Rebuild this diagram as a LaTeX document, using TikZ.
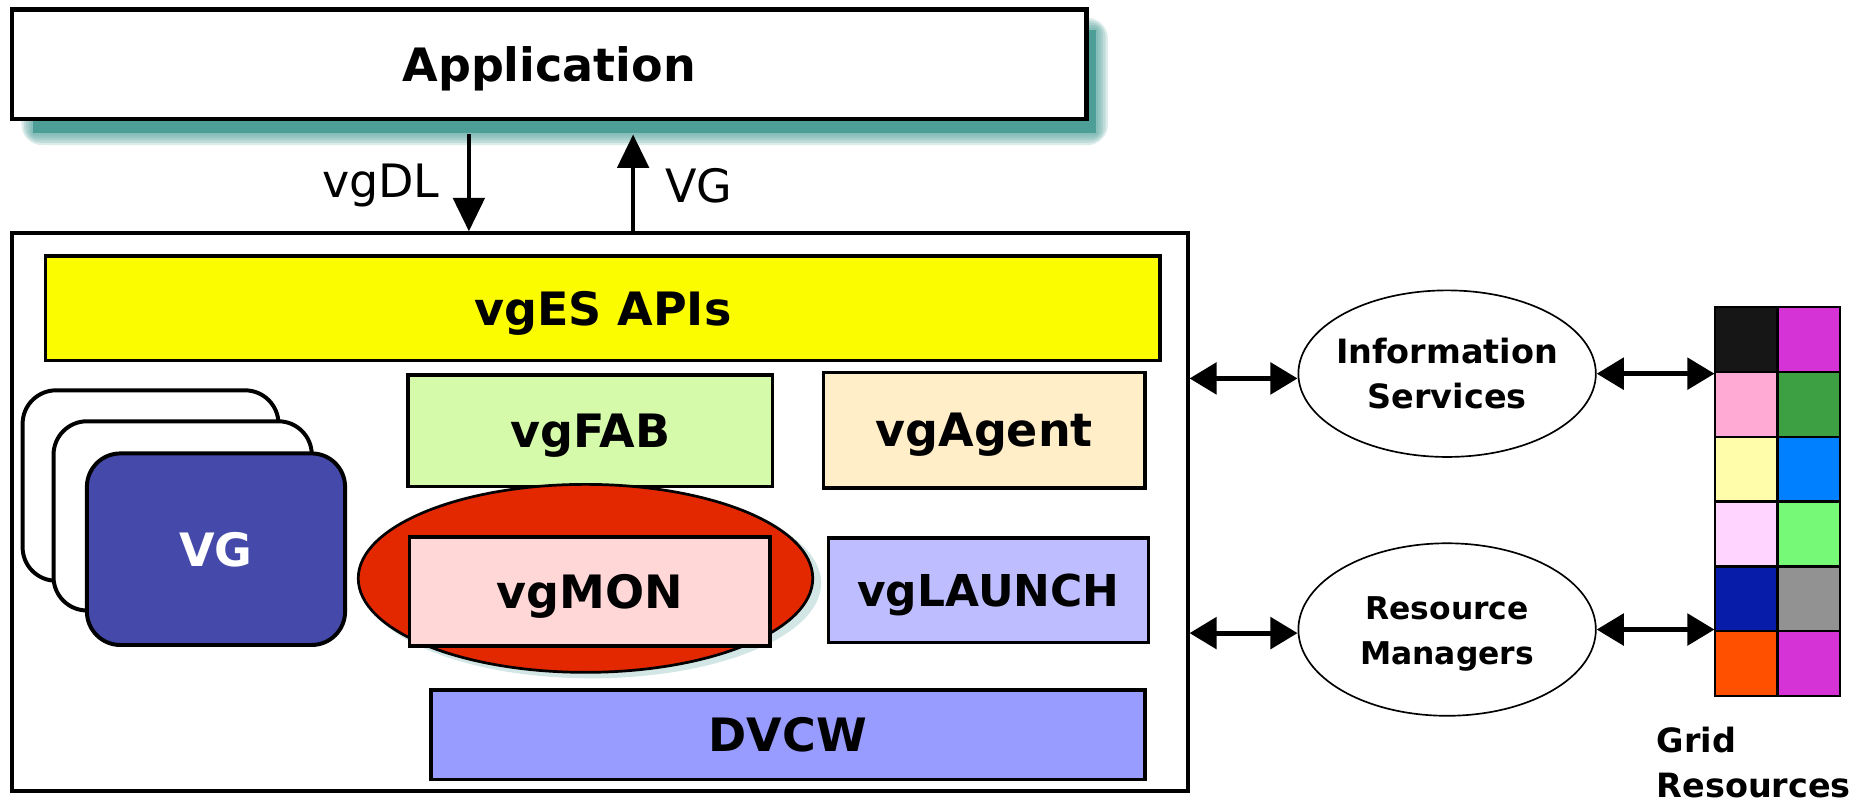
\documentclass[tikz,border=0pt]{standalone}
\usepackage{fontspec}
\setmainfont{DejaVu Sans}
\usetikzlibrary{arrows.meta,shapes.geometric,fit}

\definecolor{appshadow}{HTML}{4E9E98}
\definecolor{apiyellow}{HTML}{FCFC00}
\definecolor{fabgreen}{HTML}{D5FBAA}
\definecolor{agentbeige}{HTML}{FFEEC8}
\definecolor{vgblue}{HTML}{454AAA}
\definecolor{monred}{HTML}{E32800}
\definecolor{monpink}{HTML}{FFD7D7}
\definecolor{launchlav}{HTML}{BDBDFF}
\definecolor{dvcwblue}{HTML}{999CFF}
\definecolor{gA}{HTML}{161616}
\definecolor{gB}{HTML}{D633D6}
\definecolor{gC}{HTML}{FFAAD4}
\definecolor{gD}{HTML}{3DA043}
\definecolor{gE}{HTML}{FFFCAA}
\definecolor{gF}{HTML}{0080FF}
\definecolor{gG}{HTML}{FFD5FF}
\definecolor{gH}{HTML}{76F976}
\definecolor{gI}{HTML}{071DAA}
\definecolor{gJ}{HTML}{929292}
\definecolor{gK}{HTML}{FF5000}

\tikzset{
  big/.style={font=\fontsize{22}{26}\selectfont\bfseries, text depth=0pt},
  small/.style={font=\fontsize{16}{21.5}\selectfont\bfseries, align=center},
  layerbox/.style={draw=black, line width=1.7pt, inner sep=0pt, big},
  vgcard/.style={draw=black, line width=1.9pt, rounded corners=16pt},
  svcellipse/.style={ellipse, draw=black, line width=0.8pt, fill=white,
    inner sep=0pt, minimum width=5cm, minimum height=2.8cm},
  oneway/.style={line width=2pt, -{Triangle[length=16pt,width=15pt]}},
  twoway/.style={line width=2.3pt, {Triangle[length=13pt,width=15pt]}-{Triangle[length=13pt,width=15pt]}},
  cell/.style={draw=black, line width=1.1pt},
}

\begin{document}
\begin{tikzpicture}[x=0.02cm, y=-0.02cm]
\useasboundingbox (0,0) rectangle (1568,678);

% soft teal shadow behind the application box
\fill[appshadow] (28,25) rectangle (921,112);
\foreach \g in {2,4,6,8,10}
  \fill[appshadow, opacity=0.2, rounded corners=\g] (28-\g,25-\g) rectangle (921+\g,112+\g);

% application layer
\node[draw=black, line width=2.2pt, fill=white, inner sep=0pt, big,
      minimum width=18.06cm, minimum height=1.84cm] (app) at (461.5,54) {Application};

% middleware container
\node[draw=black, line width=1.9pt, fill=white, inner sep=0pt,
      minimum width=19.76cm, minimum height=9.38cm] (vges) at (504,430.5) {};

% requests and results between application and middleware
\coordinate (dlTop) at (394,113);
\coordinate (vgTop) at (532,113);
\draw[oneway] (dlTop) -- (dlTop |- vges.north);
\draw[oneway] (vgTop |- vges.north) -- (vgTop);
\node[font=\fontsize{22}{26}\selectfont] (dlLabel) at (320,156) {vgDL};
\node[font=\fontsize{22}{26}\selectfont] (vgLabel) at (587,156) {VG};

% components
\node[layerbox, fill=apiyellow, minimum width=18.74cm, minimum height=1.76cm]
  (api) at (506.5,259) {vgES APIs};
\node[layerbox, fill=fabgreen, minimum width=6.12cm, minimum height=1.88cm]
  (fab) at (496,362) {vgFAB};
\node[layerbox, fill=agentbeige, minimum width=5.4cm, minimum height=1.94cm]
  (agent) at (827,361.5) {vgAgent};

% stack of virtual grids
\draw[vgcard, fill=white] (19,328) rectangle (234,488);
\draw[vgcard, fill=white] (45,354) rectangle (262,513);
\node[vgcard, fill=vgblue, inner sep=0pt, minimum width=4.34cm, minimum height=3.22cm,
      big, text=white] (vgstack) at (181.5,461.5) {VG};

% monitoring highlighted by an ellipse
\fill[appshadow, opacity=0.25] (497,490) ellipse (193 and 80);
\node[ellipse, draw=black, line width=1.3pt, fill=monred, inner sep=0pt,
      minimum width=7.64cm, minimum height=3.16cm] (monring) at (492,486) {};
\node[layerbox, fill=monpink, minimum width=6.06cm, minimum height=1.84cm]
  (mon) at (495.5,497) {vgMON};

\node[layerbox, fill=launchlav, minimum width=5.38cm, minimum height=1.76cm,
      font=\fontsize{21}{26}\selectfont\bfseries] (launch) at (830.5,496) {vgLAUNCH};
\node[layerbox, fill=dvcwblue, minimum width=12cm, minimum height=1.5cm]
  (dvcw) at (662,617.5) {DVCW};

% external services
\node[svcellipse, label={[small]center:Information\\Services}] (info) at (1216,314) {};
\node[svcellipse, minimum height=2.9cm,
      label={[small, font=\fontsize{15}{21.5}\selectfont\bfseries, yshift=-2pt]center:Resource\\Managers}]
  (rm) at (1216,529) {};

% grid resources
\foreach \c/\r/\col in {0/0/gA,1/0/gB,0/1/gC,1/1/gD,0/2/gE,1/2/gF,
                        0/3/gG,1/3/gH,0/4/gI,1/4/gJ,0/5/gK,1/5/gB}
  \draw[cell, fill=\col] (1441+52.5*\c,258+54.5*\r) rectangle (1493.5+52.5*\c,312.5+54.5*\r);
\node[inner sep=0pt, fit={(1441,258) (1546,585)}] (grid) {};
\node[small, align=left, anchor=north west] (gridLabel) at (1386,605) {Grid\\Resources};

% links
\draw[twoway] (vges.east |- 0,318) -- (info.west |- 0,318);
\draw[twoway] (vges.east |- 0,532) -- (rm.west |- 0,532);
\draw[twoway] (info.east) -- (info.east -| grid.west);
\draw[twoway] (rm.east) -- (rm.east -| grid.west);
\end{tikzpicture}
\end{document}
